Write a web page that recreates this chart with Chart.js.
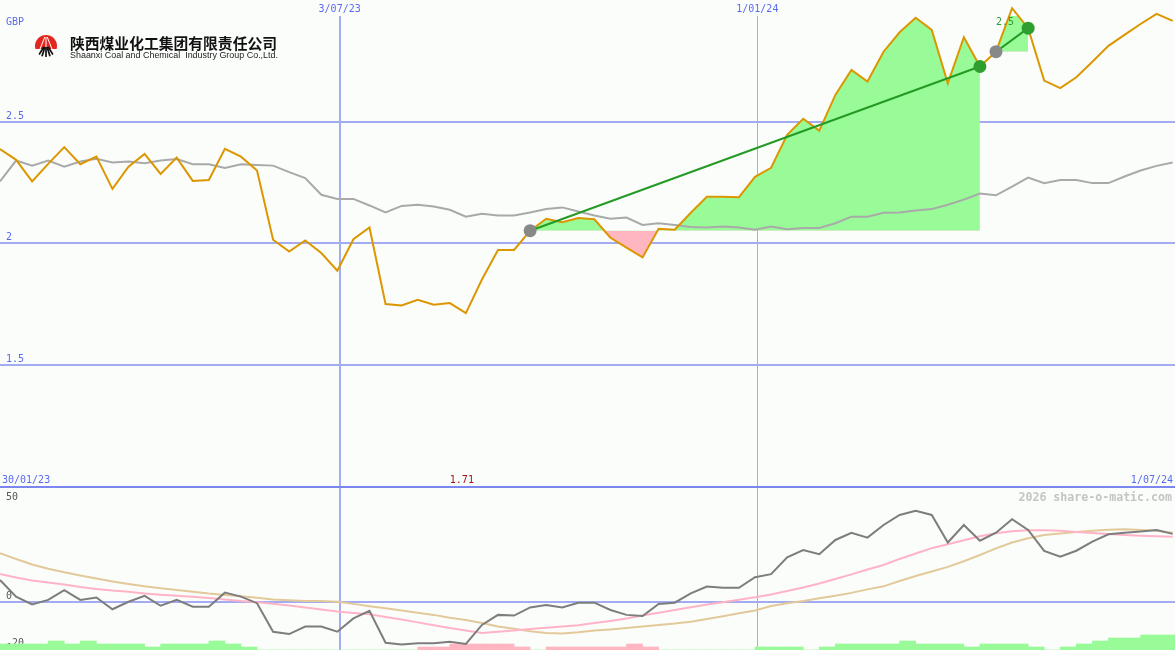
<!DOCTYPE html>
<html>
<head>
<meta charset="utf-8">
<title>Shaanxi Coal and Chemical Industry Group</title>
<script src="https://cdn.jsdelivr.net/npm/chart.js@4.4.1/dist/chart.umd.min.js"></script>
<style>
  html, body { margin: 0; padding: 0; background: #fbfdfb; }
  #wrap { position: relative; width: 1175px; height: 650px; overflow: hidden; }
  #priceChart { position: absolute; left: 0; top: 0; }
  #sep { position: absolute; left: 0; top: 486px; width: 1175px; height: 2px; background: #7b87ee; }
  #oscChart { position: absolute; left: 0; top: 488px; }
</style>
</head>
<body>
<div id="wrap">
  <canvas id="priceChart" width="1175" height="486"></canvas>
  <div id="sep"></div>
  <canvas id="oscChart" width="1175" height="162"></canvas>
</div>
<script>
// weekly points, first one on 5/02/23
const startDate = "2023-02-05";
const endDate = "2024-07-01";
const dateTicks = ["2023-07-03", "2024-01-01"];
const rangeLabels = ["30/01/23", "1/07/24"];
const priceTicks = [1.5, 2, 2.5];
const oscTicks = [-20, 0];

// close price (GBP)
const price = [
  2.387, 2.343, 2.254, 2.326, 2.395, 2.325, 2.356, 2.223, 2.315, 2.367,
  2.285, 2.352, 2.256, 2.260, 2.388, 2.356, 2.299, 2.014, 1.965, 2.011,
  1.959, 1.886, 2.016, 2.064, 1.749, 1.743, 1.767, 1.746, 1.753, 1.712,
  1.850, 1.972, 1.972, 2.051, 2.100, 2.086, 2.103, 2.098, 2.022, 1.981,
  1.941, 2.059, 2.055, 2.125, 2.191, 2.191, 2.189, 2.273, 2.310, 2.446,
  2.512, 2.463, 2.610, 2.713, 2.665, 2.788, 2.868, 2.928, 2.878, 2.658,
  2.848, 2.727, 2.788, 2.967, 2.885, 2.669, 2.638, 2.683, 2.747, 2.812,
  2.857, 2.902, 2.944, 2.915
];

// moving average (grey)
const priceAvg = [
  2.254, 2.340, 2.319, 2.340, 2.315, 2.336, 2.347, 2.332, 2.336, 2.329,
  2.340, 2.346, 2.325, 2.325, 2.309, 2.325, 2.322, 2.319, 2.292, 2.268,
  2.199, 2.182, 2.182, 2.155, 2.126, 2.153, 2.158, 2.151, 2.137, 2.109,
  2.121, 2.114, 2.114, 2.126, 2.140, 2.147, 2.130, 2.114, 2.100, 2.105,
  2.075, 2.082, 2.075, 2.066, 2.064, 2.068, 2.064, 2.055, 2.068, 2.057,
  2.062, 2.062, 2.082, 2.109, 2.109, 2.125, 2.126, 2.134, 2.140, 2.158,
  2.179, 2.204, 2.197, 2.233, 2.270, 2.247, 2.260, 2.260, 2.247, 2.247,
  2.274, 2.299, 2.318, 2.332
];

// trend lines: [from week, to week]
const trends = [[33, 61], [62, 64]];
const trendLabel = "2.5";

// lower panel
const momentum = [
  9.3, 2.2, -1.1, 0.8, 5.0, 0.8, 1.8, -3.2, 0.0, 2.5,
  -1.7, 0.8, -2.1, -2.1, 3.9, 2.2, -0.6, -12.8, -13.8, -10.6,
  -10.6, -12.8, -7.1, -3.9, -17.5, -18.2, -17.7, -17.7, -17.1, -18.0,
  -9.9, -5.6, -5.9, -2.4, -1.4, -2.4, -0.4, -0.4, -3.5, -5.6,
  -6.1, -0.9, -0.4, 3.6, 6.5, 6.0, 6.0, 10.5, 11.8, 19.0,
  22.1, 20.3, 26.4, 29.5, 27.4, 32.8, 37.1, 38.9, 37.1, 25.3,
  32.8, 26.1, 29.5, 35.3, 30.7, 21.7, 19.3, 21.8, 25.7, 28.8,
  29.5, 30.0, 30.7, 29.0
];
const momentumFast = [
  11.9, 10.4, 9.1, 8.2, 7.4, 6.3, 5.5, 4.8, 4.3, 3.5,
  3.0, 2.6, 2.1, 1.6, 1.0, 0.3, -0.2, -0.8, -1.6, -2.4,
  -3.3, -4.2, -4.8, -5.3, -6.5, -7.6, -8.8, -10.0, -11.2, -12.3,
  -13.3, -12.8, -12.3, -11.6, -11.1, -10.6, -10.0, -9.1, -8.2, -7.1,
  -5.9, -4.7, -3.5, -2.3, -1.2, -0.2, 0.9, 1.9, 3.1, 4.6,
  6.1, 7.8, 9.7, 11.7, 13.8, 15.7, 18.3, 20.6, 22.9, 24.6,
  26.3, 28.0, 29.3, 30.1, 30.6, 30.6, 30.3, 29.8, 29.4, 28.9,
  28.5, 28.2, 28.0, 27.8
];
const momentumSlow = [
  20.7, 18.3, 15.9, 14.1, 12.6, 11.2, 9.9, 8.7, 7.6, 6.6,
  5.8, 5.0, 4.3, 3.5, 2.9, 2.4, 1.7, 1.0, 0.6, 0.3,
  0.3, 0.0, -0.9, -1.9, -2.8, -3.7, -4.7, -5.6, -6.8, -7.8,
  -9.1, -10.6, -11.5, -12.6, -13.3, -13.5, -13.0, -12.3, -11.8, -11.2,
  -10.6, -9.9, -9.3, -8.5, -7.4, -6.2, -4.9, -3.7, -1.8, -0.6,
  0.3, 1.5, 2.6, 3.8, 5.3, 6.6, 8.9, 11.0, 12.9, 14.9,
  17.3, 20.0, 22.8, 25.3, 27.1, 28.5, 29.2, 29.8, 30.3, 30.8,
  31.0, 30.7, 30.3, 29.5
];
// signal bars, + green / - pink
const histogram = [
  2, 2, 2, 3, 2, 3, 2, 2, 2, 1,
  2, 2, 2, 3, 2, 1, 0, 0, 0, 0,
  0, 0, 0, 0, 0, 0, -1, -1, -2, -2,
  -2, -2, -1, 0, -1, -1, -1, -1, -1, -2,
  -1, 0, 0, 0, 0, 0, 0, 1, 1, 1,
  0, 1, 2, 2, 2, 2, 3, 2, 2, 2,
  1, 2, 2, 2, 1, 0, 1, 2, 3, 4,
  4, 5, 5, 5
];

const BLUE = "#5a6af0";
const GRID = "#a3acf2";
const ORANGE = "#dc9600";
const GREEN_FILL = "#98fb98";
const PINK_FILL = "#ffb6c1";
const MONO = '"DejaVu Sans Mono", monospace';

const DAY = 864e5;
const dayOf = (s) => (Date.parse(s) - Date.parse(startDate)) / DAY;
const weekX = (i) => i * 7;
const pts = (arr) => arr.map((v, i) => ({ x: weekX(i), y: v }));

const fmtDate = (v) => {
  const d = new Date(Date.parse(startDate) + v * DAY);
  return d.getUTCDate() + "/" + String(d.getUTCMonth() + 1).padStart(2, "0") + "/" + String(d.getUTCFullYear()).slice(2);
};

const xAxis = (showLabels) => ({
  type: "linear",
  position: "top",
  min: 0,
  max: dayOf(endDate),
  offset: false,
  afterBuildTicks: (s) => { s.ticks = dateTicks.map((t) => ({ value: dayOf(t) })); },
  afterFit: (s) => { s.height = showLabels ? 16 : 0; s.paddingLeft = 0; s.paddingRight = 0; },
  grid: { offset: false, color: GRID, lineWidth: (c) => (c.index === 0 ? 2 : 1), drawTicks: false },
  border: { display: false },
  ticks: {
    display: showLabels, padding: 1, color: BLUE, maxRotation: 0, autoSkip: false,
    font: { family: MONO, size: 10 },
    callback: (v) => fmtDate(v),
  },
});

const valueAxis = (min, max, ticks, color, gridColor) => ({
  type: "linear",
  min: min,
  max: max,
  afterBuildTicks: (s) => { s.ticks = ticks.map((v) => ({ value: v })); },
  afterFit: (s) => { s.width = 0; s.paddingTop = 0; s.paddingBottom = 0; },
  grid: { color: gridColor, lineWidth: 2, drawTicks: false },
  border: { display: false },
  ticks: {
    mirror: true, padding: 6, labelOffset: -5.5, color: color,
    font: { family: MONO, size: 10 },
    callback: (v) => String(v),
  },
});

function drawLogo(ctx, cx, cy) {
  ctx.save();
  ctx.beginPath();
  ctx.arc(cx, cy, 11, 0, Math.PI * 2);
  ctx.clip();
  ctx.fillStyle = "#e3261e";
  ctx.fillRect(cx - 11, cy - 11, 22, 14);
  ctx.strokeStyle = "#ffffff";
  ctx.lineWidth = 1;
  [-4, 0, 4].forEach((dx) => {
    ctx.beginPath();
    ctx.moveTo(cx + dx * 0.3, cy - 9);
    ctx.lineTo(cx + dx * 1.6, cy + 4);
    ctx.stroke();
  });
  ctx.strokeStyle = "#111111";
  ctx.lineWidth = 1.7;
  [-9, -4.5, 0, 4.5, 9].forEach((dx) => {
    ctx.beginPath();
    ctx.moveTo(cx + dx * 0.25, cy + 1);
    ctx.lineTo(cx + dx, cy + 12);
    ctx.stroke();
  });
  ctx.restore();
}

const priceText = {
  id: "priceText",
  afterDraw(chart) {
    const ctx = chart.ctx;
    const xs = chart.scales.x;
    ctx.save();
    ctx.font = "10px " + MONO;
    ctx.textBaseline = "alphabetic";
    ctx.fillStyle = BLUE;
    ctx.textAlign = "left";
    ctx.fillText("GBP", 6, 25);
    ctx.fillText(rangeLabels[0], 2, 483);
    ctx.textAlign = "right";
    ctx.fillText(rangeLabels[1], 1173, 483);

    // lowest close
    let lo = 0;
    price.forEach((v, i) => { if (v < price[lo]) lo = i; });
    ctx.textAlign = "center";
    ctx.fillStyle = "#a31515";
    ctx.fillText(price[lo].toFixed(2), xs.getPixelForValue(weekX(lo)) - 4, 483);

    // trend label
    ctx.textAlign = "left";
    ctx.fillStyle = "#2e9e2e";
    ctx.fillText(trendLabel, xs.getPixelForValue(weekX(trends[1][0])), 25);

    // company header
    drawLogo(ctx, 46, 46);
    ctx.fillStyle = "#111111";
    ctx.font = 'bold 15px "Noto Sans CJK SC"';
    ctx.fillText("陕西煤业化工集团有限责任公司", 70, 49, 207);
    ctx.fillStyle = "#222222";
    ctx.font = '9px "Liberation Sans", Arial, sans-serif';
    ctx.fillText("Shaanxi Coal and Chemical  Industry Group Co.,Ltd.", 70, 58, 208);
    ctx.restore();
  },
};

const oscText = {
  id: "oscText",
  afterDraw(chart) {
    const ctx = chart.ctx;
    ctx.save();
    ctx.textBaseline = "alphabetic";
    ctx.font = "10px " + MONO;
    ctx.fillStyle = "#555555";
    ctx.textAlign = "left";
    ctx.fillText("50", 6, 11.5);
    ctx.font = "bold 11.6px " + MONO;
    ctx.fillStyle = "#c4c4c4";
    ctx.textAlign = "right";
    ctx.fillText("2026 share-o-matic.com", 1172, 13);
    ctx.restore();
  },
};

const common = {
  responsive: false,
  animation: false,
  devicePixelRatio: 1,
  events: [],
  layout: { padding: 0, autoPadding: false },
  plugins: { legend: { display: false }, tooltip: { enabled: false } },
  elements: { line: { tension: 0 }, point: { radius: 0 } },
};

const trendPoints = trends.flatMap(([a, b]) => [{ x: weekX(a), y: price[a] }, { x: weekX(b), y: price[b] }]);

new Chart(document.getElementById("priceChart"), {
  type: "line",
  data: {
    datasets: [
      {
        data: trendPoints,
        showLine: false,
        pointRadius: 6.5,
        pointBorderWidth: 0,
        pointBackgroundColor: trendPoints.map((p, i) => (i % 2 === 0 ? "#888888" : "#2e9e2e")),
        order: 0,
        clip: false,
      },
      ...trends.map(([a, b]) => ({
        data: [{ x: weekX(a), y: price[a] }, { x: weekX(b), y: price[b] }],
        borderColor: "#239a23",
        borderWidth: 2,
        order: 1,
        clip: false,
      })),
      { data: pts(price), borderColor: ORANGE, borderWidth: 2, order: 2, clip: false },
      { data: pts(priceAvg), borderColor: "#a9a9a9", borderWidth: 2, order: 3, clip: false },
      ...trends.map(([a, b]) => ({
        data: pts(price).slice(a, b + 1),
        borderColor: "rgba(0,0,0,0)",
        borderWidth: 1,
        fill: { target: { value: price[a] }, above: GREEN_FILL, below: PINK_FILL },
        order: 4,
        clip: false,
      })),
    ],
  },
  options: {
    ...common,
    scales: {
      x: xAxis(true),
      y: valueAxis(1.0, 2.935, priceTicks, BLUE, GRID),
    },
  },
  plugins: [priceText],
});

new Chart(document.getElementById("oscChart"), {
  type: "line",
  data: {
    datasets: [
      { data: pts(momentum), borderColor: "#7d7d7d", borderWidth: 2, order: 1 },
      { data: pts(momentumFast), borderColor: "#ffb3c6", borderWidth: 2, order: 2 },
      { data: pts(momentumSlow), borderColor: "#e3c99a", borderWidth: 2, order: 3 },
      {
        type: "bar",
        yAxisID: "yh",
        data: histogram.map((h, i) => ({ x: weekX(i) + 3.5, y: Math.abs(h) })),
        backgroundColor: histogram.map((h) => (h >= 0 ? GREEN_FILL : PINK_FILL)),
        barPercentage: 1,
        categoryPercentage: 1,
        borderWidth: 0,
        order: 5,
      },
    ],
  },
  options: {
    ...common,
    scales: {
      x: xAxis(false),
      y: valueAxis(-20.6, 48.6, oscTicks, "#555555", (c) => (c.tick && c.tick.value === 0 ? GRID : "rgba(0,0,0,0)")),
      yh: { display: false, min: 0, max: 54 },
    },
  },
  plugins: [oscText],
});
</script>
</body>
</html>
